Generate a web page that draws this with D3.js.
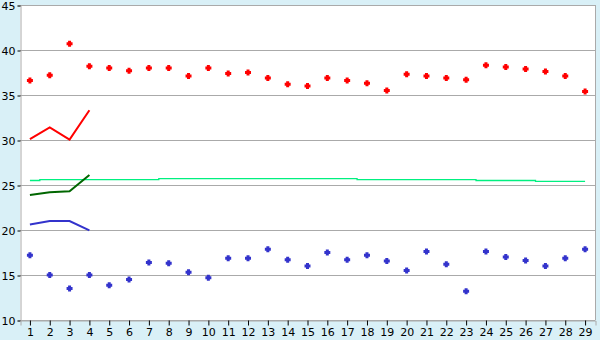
<!DOCTYPE html>
<html>
<head>
<meta charset="utf-8">
<script src="https://cdn.jsdelivr.net/npm/d3@7"></script>
<style>
  body { margin: 0; background: #d9f0f7; }
  svg { display: block; }
  text { font-family: "DejaVu Sans", Verdana, sans-serif; font-size: 11px; fill: #000; }
</style>
</head>
<body>
<svg width="600" height="340"></svg>
<script>
// categories 1..29
var days = d3.range(1, 30);

// scattered points
var redPoints = [36.6, 37.2, 40.7, 38.2, 38.0, 37.7, 38.0, 38.0, 37.1, 38.0,
  37.4, 37.5, 36.9, 36.2, 36.0, 36.9, 36.6, 36.3, 35.5, 37.3,
  37.1, 36.9, 36.7, 38.3, 38.1, 37.9, 37.6, 37.1, 35.4];
var bluePoints = [17.2, 15.0, 13.5, 15.0, 13.85, 14.5, 16.4, 16.3, 15.3, 14.7,
  16.85, 16.85, 17.85, 16.7, 16.0, 17.5, 16.7, 17.2, 16.55, 15.5,
  17.6, 16.2, 13.2, 17.6, 17.0, 16.6, 16.0, 16.85, 17.85];

// short lines over the first four days
var redLine = [30.1, 31.4, 30.05, 33.3];
var darkGreenLine = [23.9, 24.2, 24.3, 26.1];
var blueLine = [20.6, 21.0, 21.0, 19.95];

// long flat line
var greenLine = [25.5, 25.6, 25.6, 25.6, 25.6, 25.6, 25.6, 25.7, 25.7, 25.7,
  25.7, 25.7, 25.7, 25.7, 25.7, 25.7, 25.7, 25.6, 25.6, 25.6,
  25.6, 25.6, 25.6, 25.5, 25.5, 25.5, 25.4, 25.4, 25.4];

var yTicks = [10, 15, 20, 25, 30, 35, 40, 45];

var svg = d3.select("svg");
var plotLeft = 20, plotRight = 595, plotTop = 5, plotBottom = 320;

var x = d3.scaleBand().domain(days).range([plotLeft, plotRight]);
var y = d3.scaleLinear().domain([10, 45]).range([plotBottom, plotTop]);
function cx(d) { return x(d) + x.bandwidth() / 2; }

// plot background
svg.append("rect")
  .attr("x", plotLeft).attr("y", plotTop)
  .attr("width", plotRight - plotLeft).attr("height", plotBottom - plotTop)
  .attr("fill", "#fff");

// grid
svg.append("g")
  .selectAll("line")
  .data(yTicks)
  .enter().append("line")
  .attr("x1", plotLeft).attr("x2", plotRight)
  .attr("y1", function(d) { return Math.round(y(d)) + 0.5; })
  .attr("y2", function(d) { return Math.round(y(d)) + 0.5; })
  .attr("stroke", "#aaaaaa");

// right border
svg.append("line")
  .attr("x1", plotRight + 0.5).attr("x2", plotRight + 0.5)
  .attr("y1", plotTop).attr("y2", plotBottom)
  .attr("stroke", "#aaaaaa");

// y axis
var yAxis = svg.append("g")
  .attr("transform", "translate(" + (plotLeft + 0.5) + ",0.5)")
  .call(d3.axisLeft(y).tickValues(yTicks).tickSize(3).tickPadding(2));
yAxis.select(".domain").attr("stroke", "#aaaaaa");
yAxis.selectAll(".tick line").attr("stroke", "#000");
yAxis.selectAll("text").attr("font-size", 11).attr("font-family", "DejaVu Sans, Verdana, sans-serif");

// x axis
var xAxis = svg.append("g")
  .attr("transform", "translate(0.5," + (plotBottom + 0.5) + ")")
  .call(d3.axisBottom(x).tickSize(5).tickPadding(3));
xAxis.select(".domain").attr("stroke", "#aaaaaa");
xAxis.selectAll(".tick line").attr("stroke", "#000");
xAxis.selectAll("text").attr("font-size", 11).attr("font-family", "DejaVu Sans, Verdana, sans-serif");

// lines
var line = d3.line()
  .x(function(d, i) { return cx(days[i]); })
  .y(function(d) { return y(d); });

svg.append("path")
  .datum(greenLine)
  .attr("d", line.curve(d3.curveStep))
  .attr("fill", "none")
  .attr("stroke", "#00f080")
  .attr("stroke-width", 1.3);

line.curve(d3.curveLinear);

[[redLine, "#ff0000"], [darkGreenLine, "#006600"], [blueLine, "#3333cc"]].forEach(function(s) {
  svg.append("path")
    .datum(s[0])
    .attr("d", line)
    .attr("fill", "none")
    .attr("stroke", s[1])
    .attr("stroke-width", 2);
});

// points (small plus-like markers)
var marker = "M-1.5,-3h3v1.5h1.5v3h-1.5v1.5h-3v-1.5h-1.5v-3h1.5z";
function drawPoints(values, color) {
  svg.append("g")
    .selectAll("path")
    .data(values)
    .enter().append("path")
    .attr("d", marker)
    .attr("transform", function(d, i) {
      return "translate(" + cx(days[i]) + "," + y(d) + ")";
    })
    .attr("fill", color);
}
drawPoints(redPoints, "#ff0000");
drawPoints(bluePoints, "#3333cc");
</script>
</body>
</html>
